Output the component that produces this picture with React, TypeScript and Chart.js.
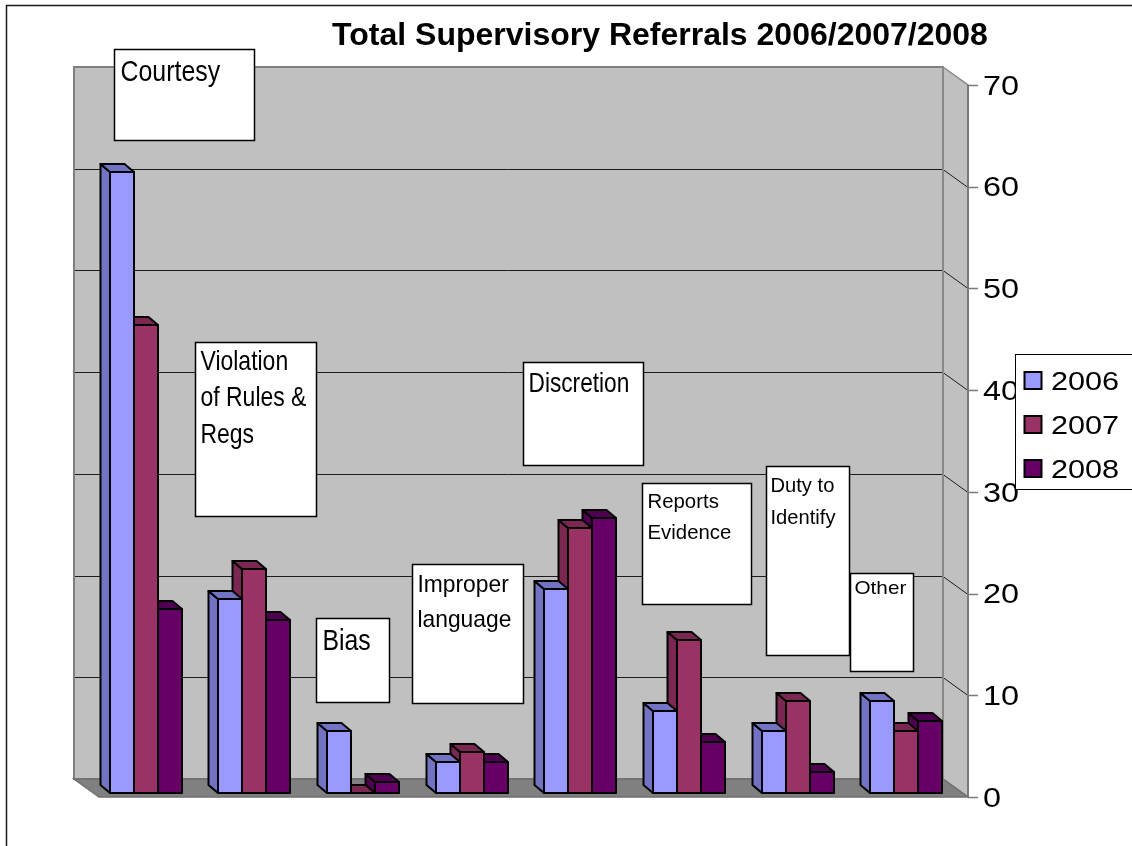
import React, { useEffect, useRef } from 'react';
import { Chart, registerables } from 'chart.js';

Chart.register(...registerables);

// Category names, split into the lines shown inside each callout box
const categories: string[][] = [
  ['Courtesy'],
  ['Violation', 'of Rules &', 'Regs'],
  ['Bias'],
  ['Improper', 'language'],
  ['Discretion'],
  ['Reports', 'Evidence'],
  ['Duty to', 'Identify'],
  ['Other'],
];

const years = ['2006', '2007', '2008'];
const referrals2006 = [61, 19, 6, 3, 20, 8, 6, 9];
const referrals2007 = [46, 22, 0, 4, 26, 15, 9, 6];
const referrals2008 = [18, 17, 1, 3, 27, 5, 2, 7];
const yTicks = [0, 10, 20, 30, 40, 50, 60, 70];
const chartTitle = 'Total Supervisory Referrals 2006/2007/2008';

const FRONT_COLORS = ['#9999FF', '#993366', '#660066'];
const SIDE_COLORS = ['#7373C4', '#7A2851', '#500050'];

// Callout boxes, positioned in axis units (category index on x, value on y)
const callouts = [
  { cat: 0, xMin: -0.36, xMax: 0.93, yMin: 64.6, yMax: 73.5, size: 30, sx: 0.83, base: 31, lh: 0, inset: 6 },
  { cat: 1, xMin: 0.38, xMax: 1.5, yMin: 27.6, yMax: 44.7, size: 28, sx: 0.82, base: 27, lh: 36.5, inset: 5 },
  { cat: 2, xMin: 1.5, xMax: 2.17, yMin: 9.3, yMax: 17.6, size: 29, sx: 0.855, base: 31, lh: 0, inset: 6 },
  { cat: 3, xMin: 2.38, xMax: 3.4, yMin: 9.2, yMax: 22.9, size: 24, sx: 0.95, base: 27.4, lh: 35, inset: 5 },
  { cat: 4, xMin: 3.4, xMax: 4.51, yMin: 32.6, yMax: 42.8, size: 28, sx: 0.81, base: 29, lh: 0, inset: 5 },
  { cat: 5, xMin: 4.5, xMax: 5.5, yMin: 19.0, yMax: 30.9, size: 21, sx: 0.97, base: 24, lh: 31.7, inset: 5 },
  { cat: 6, xMin: 5.64, xMax: 6.4, yMin: 14.0, yMax: 32.5, size: 21, sx: 0.96, base: 25, lh: 32, inset: 4 },
  { cat: 7, xMin: 6.41, xMax: 6.99, yMin: 12.4, yMax: 22.05, size: 18.5, sx: 1.12, base: 20.7, lh: 0, inset: 4 },
];

// Oblique depth of the walls, and the placement/depth of the 3D columns
const WALL_DEPTH = { dx: -25, dy: -18 };
const BAR_SHIFT = { dx: -7.5, dy: -4.5 };
const BAR_DEPTH = { dx: -9.5, dy: -8 };

const FONT = '"Liberation Sans", Arial, Helvetica, sans-serif';

function stretchedText(
  ctx: CanvasRenderingContext2D,
  text: string,
  x: number,
  y: number,
  size: number,
  sx: number,
  weight = 'normal',
  align: CanvasTextAlign = 'left'
) {
  ctx.save();
  ctx.font = `${weight} ${size}px ${FONT}`;
  ctx.textAlign = align;
  ctx.textBaseline = 'alphabetic';
  ctx.fillStyle = '#000';
  ctx.translate(x, y);
  ctx.scale(sx, 1);
  ctx.fillText(text, 0, 0);
  ctx.restore();
}

function poly(ctx: CanvasRenderingContext2D, pts: number[][], fill?: string, stroke?: string, lw = 1) {
  ctx.beginPath();
  ctx.moveTo(pts[0][0], pts[0][1]);
  for (let i = 1; i < pts.length; i++) ctx.lineTo(pts[i][0], pts[i][1]);
  ctx.closePath();
  if (fill) {
    ctx.fillStyle = fill;
    ctx.fill();
  }
  if (stroke) {
    ctx.strokeStyle = stroke;
    ctx.lineWidth = lw;
    ctx.stroke();
  }
}

function line(ctx: CanvasRenderingContext2D, pts: number[][], color: string, lw: number) {
  ctx.beginPath();
  ctx.moveTo(pts[0][0], pts[0][1]);
  for (let i = 1; i < pts.length; i++) ctx.lineTo(pts[i][0], pts[i][1]);
  ctx.strokeStyle = color;
  ctx.lineWidth = lw;
  ctx.stroke();
}

const column3d = {
  id: 'column3d',
  beforeDatasetsDraw(chart: any) {
    const ctx: CanvasRenderingContext2D = chart.ctx;
    const { left, right, top, bottom } = chart.chartArea;
    const yScale = chart.scales.y;
    const { dx, dy } = WALL_DEPTH;

    ctx.save();
    ctx.lineJoin = 'miter';

    // back wall
    poly(ctx, [[left + dx, top + dy], [right + dx, top + dy], [right + dx, bottom + dy], [left + dx, bottom + dy]], '#C0C0C0');
    // right side wall
    poly(ctx, [[right + dx, top + dy], [right, top], [right, bottom], [right + dx, bottom + dy]], '#C0C0C0');
    // floor
    poly(ctx, [[left + dx, bottom + dy], [right + dx, bottom + dy], [right, bottom], [left, bottom]], '#808080');

    // gridlines: across the back wall, then down the side wall to the axis
    yTicks.forEach((v) => {
      if (v === yTicks[0] || v === yTicks[yTicks.length - 1]) return;
      const y = Math.round(yScale.getPixelForValue(v)) + 0.5;
      line(ctx, [[left + dx, y + dy], [right + dx, y + dy], [right, y]], '#1c1c1c', 1);
    });

    // wall outlines
    poly(ctx, [[left + dx, top + dy], [right + dx, top + dy], [right + dx, bottom + dy], [left + dx, bottom + dy]], undefined, '#808080', 2);
    poly(ctx, [[right + dx, top + dy], [right, top], [right, bottom], [right + dx, bottom + dy]], undefined, '#8a8a8a', 1.5);
    poly(ctx, [[left + dx, bottom + dy], [right + dx, bottom + dy], [right, bottom], [left, bottom]], undefined, '#6f6f6f', 1.5);

    // value axis line and tick marks
    line(ctx, [[right, top], [right, bottom]], '#7a7a7a', 2);
    yTicks.forEach((v) => {
      const y = Math.round(yScale.getPixelForValue(v)) + 0.5;
      line(ctx, [[right, y], [right + 10, y]], '#7a7a7a', 1.5);
    });

    // 3D columns, drawn right-to-left within each group so nearer faces overlap
    const metas = chart.data.datasets.map((_: any, i: number) => chart.getDatasetMeta(i));
    const nCat = chart.data.labels.length;
    ctx.lineJoin = 'round';
    for (let c = 0; c < nCat; c++) {
      for (let d = metas.length - 1; d >= 0; d--) {
        const el = metas[d].data[c];
        if (!el) continue;
        const L = Math.round(el.x - el.width / 2 + BAR_SHIFT.dx);
        const R = Math.round(el.x + el.width / 2 + BAR_SHIFT.dx);
        const T = Math.round(el.y + BAR_SHIFT.dy);
        const B = Math.round(el.base + BAR_SHIFT.dy);
        const ox = BAR_DEPTH.dx;
        const oy = BAR_DEPTH.dy;
        const front = chart.data.datasets[d].backgroundColor;
        const side = SIDE_COLORS[d];
        poly(ctx, [[L, B], [L, T], [L + ox, T + oy], [L + ox, B + oy]], side, '#000', 2);
        poly(ctx, [[L, T], [R, T], [R + ox, T + oy], [L + ox, T + oy]], side, '#000', 2);
        poly(ctx, [[L, T], [R, T], [R, B], [L, B]], front, '#000', 2);
      }
    }
    ctx.restore();
    return false;
  },
  afterDraw(chart: any) {
    const ctx: CanvasRenderingContext2D = chart.ctx;
    const { right } = chart.chartArea;
    const xScale = chart.scales.x;
    const yScale = chart.scales.y;

    // value axis labels
    const axisSize = 27;
    yTicks.forEach((v) => {
      const y = yScale.getPixelForValue(v);
      stretchedText(ctx, String(v), right + 15, y + axisSize * 0.358, axisSize, 1.2);
    });

    // category callout boxes
    callouts.forEach((c) => {
      const x0 = Math.round(xScale.getPixelForValue(c.xMin)) + 0.5;
      const x1 = Math.round(xScale.getPixelForValue(c.xMax)) + 0.5;
      const y0 = Math.round(yScale.getPixelForValue(c.yMax)) + 0.5;
      const y1 = Math.round(yScale.getPixelForValue(c.yMin)) + 0.5;
      ctx.save();
      ctx.fillStyle = '#fff';
      ctx.fillRect(x0, y0, x1 - x0, y1 - y0);
      ctx.strokeStyle = '#000';
      ctx.lineWidth = 1.5;
      ctx.strokeRect(x0, y0, x1 - x0, y1 - y0);
      ctx.restore();
      const lines: string[] = chart.data.labels[c.cat];
      lines.forEach((t, i) => {
        stretchedText(ctx, t, x0 + c.inset, y0 + c.base + i * c.lh, c.size, c.sx);
      });
    });

    // legend
    ctx.save();
    ctx.fillStyle = '#fff';
    ctx.fillRect(1015.5, 354.5, 130, 135);
    ctx.strokeStyle = '#000';
    ctx.lineWidth = 1;
    ctx.strokeRect(1015.5, 354.5, 130, 135);
    chart.data.datasets.forEach((ds: any, i: number) => {
      const cy = 380.5 + i * 44;
      ctx.fillStyle = ds.backgroundColor;
      ctx.fillRect(1024.5, cy - 8.5, 17, 17);
      ctx.strokeStyle = '#000';
      ctx.lineWidth = 2;
      ctx.strokeRect(1024.5, cy - 8.5, 17, 17);
      stretchedText(ctx, ds.label, 1051, cy + 25.5 * 0.358, 25.5, 1.2);
    });
    ctx.restore();

    // title
    stretchedText(ctx, chartTitle, 660, 45, 32, 1, 'bold', 'center');

    // outer frame
    ctx.save();
    line(ctx, [[6.5, 846], [6.5, 5.5], [1132, 5.5]], '#1a1a1a', 1.5);
    ctx.restore();
  },
};

export default function App() {
  const ref = useRef<HTMLCanvasElement>(null);

  useEffect(() => {
    const canvas = ref.current;
    if (!canvas) return;
    const series = [referrals2006, referrals2007, referrals2008];
    const chart = new Chart(canvas, {
      type: 'bar',
      data: {
        labels: categories as any,
        datasets: years.map((y, i) => ({
          label: y,
          data: series[i],
          backgroundColor: FRONT_COLORS[i],
          borderColor: '#000',
          borderWidth: 2,
        })),
      },
      options: {
        responsive: false,
        animation: false,
        devicePixelRatio: 1,
        layout: { padding: { left: 99, right: 164, top: 85, bottom: 49 } },
        datasets: { bar: { categoryPercentage: 0.663, barPercentage: 1 } },
        scales: {
          x: { display: false },
          y: { display: false, min: 0, max: 70 },
        },
        plugins: {
          legend: { display: false },
          title: { display: false },
          tooltip: { enabled: false },
        },
      },
      plugins: [column3d as any],
    });
    return () => chart.destroy();
  }, []);

  return (
    <div style={{ position: 'fixed', left: 0, top: 0, width: 1132, height: 846, background: '#fff' }}>
      <canvas ref={ref} width={1132} height={846} style={{ display: 'block' }} />
    </div>
  );
}
